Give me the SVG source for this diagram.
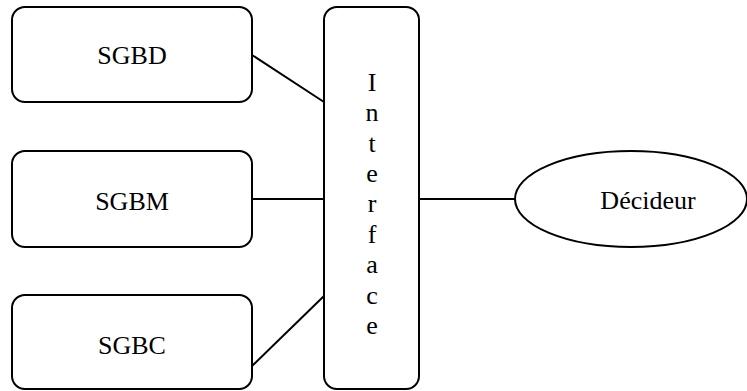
<svg xmlns="http://www.w3.org/2000/svg" width="747" height="391" viewBox="0 0 747 391">
<style>
.box{fill:#fff;stroke:#000;stroke-width:2}
.lbl{font-family:"Liberation Serif","Times New Roman",serif;font-size:26px;fill:#000;text-anchor:middle}
.con{stroke:#000;stroke-width:2;fill:none}
</style>
<rect width="747" height="391" fill="#fff"/>
<g id="connectors">
<line class="con" x1="252" y1="55" x2="324" y2="102"/>
<line class="con" x1="252" y1="199" x2="324" y2="199"/>
<line class="con" x1="252" y1="366" x2="324" y2="296"/>
<line class="con" x1="419" y1="199" x2="515" y2="199"/>
</g>
<g id="sgbd">
<rect class="box" x="12" y="7" width="240" height="95" rx="13"/>
<text class="lbl" x="132" y="64">SGBD</text>
</g>
<g id="sgbm">
<rect class="box" x="12" y="151" width="240" height="96" rx="13"/>
<text class="lbl" x="132" y="210">SGBM</text>
</g>
<g id="sgbc">
<rect class="box" x="12" y="295" width="240" height="94" rx="13"/>
<text class="lbl" x="132" y="354">SGBC</text>
</g>
<g id="interface">
<rect class="box" x="324" y="7" width="95" height="382" rx="13"/>
<text class="lbl" x="372" y="91">I</text>
<text class="lbl" x="372" y="121">n</text>
<text class="lbl" x="372" y="152">t</text>
<text class="lbl" x="372" y="182">e</text>
<text class="lbl" x="372" y="212">r</text>
<text class="lbl" x="372" y="243">f</text>
<text class="lbl" x="372" y="273">a</text>
<text class="lbl" x="372" y="304">c</text>
<text class="lbl" x="372" y="334">e</text>
</g>
<g id="decideur">
<ellipse class="box" cx="631" cy="199" rx="116" ry="48"/>
<text class="lbl" x="648" y="209">Décideur</text>
</g>
</svg>
